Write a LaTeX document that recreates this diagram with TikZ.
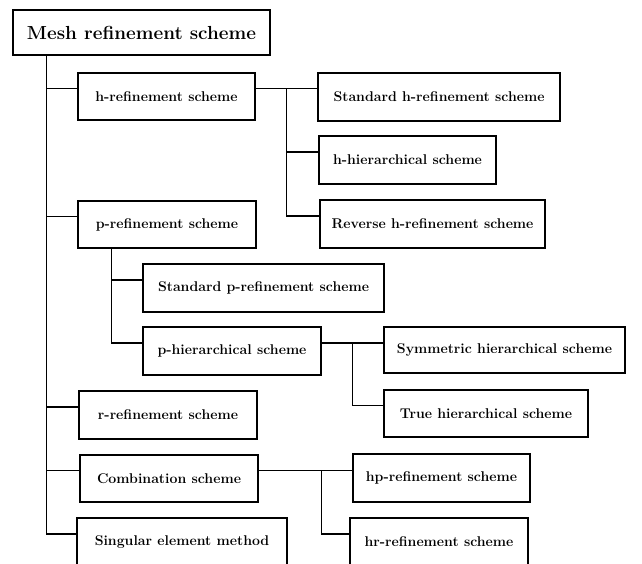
\documentclass[tikz,border=0pt]{standalone}
\usepackage{fontspec}
\usetikzlibrary{calc}
\begin{document}
\begin{tikzpicture}[x=1pt,y=-1pt,
  box/.style={draw, line width=1.4pt, minimum height=48pt, inner sep=0pt,
    font=\fontsize{14.1}{16}\selectfont\bfseries, align=center},
  link/.style={line width=1.1pt}]
\useasboundingbox (0,0) rectangle (642,563);
\clip (0,0) rectangle (642,563);
% boxes
\node[box, minimum width=257pt, minimum height=45pt, line width=1.2pt,
  font=\fontsize{18.9}{22}\selectfont\bfseries] (main) at (141.5,32.5) {Mesh refinement scheme};
\node[box, minimum width=177pt, minimum height=47pt] (href) at (166.5,96.5) {h-refinement scheme};
\node[box, minimum width=242pt] (stdh) at (439,97) {Standard h-refinement scheme};
\node[box, minimum width=177pt] (hhier) at (407.5,160) {h-hierarchical scheme};
\node[box, minimum width=225pt] (revh) at (432.5,224) {Reverse h-refinement scheme};
\node[box, minimum width=178pt, minimum height=47pt] (pref) at (167,224.5) {p-refinement scheme};
\node[box, minimum width=241pt] (stdp) at (263.5,288) {Standard p-refinement scheme};
\node[box, minimum width=178pt] (phier) at (232,351) {p-hierarchical scheme};
\node[box, minimum width=241pt, minimum height=46pt] (sym) at (504.5,350) {Symmetric hierarchical scheme};
\node[box, minimum width=204pt, minimum height=47pt] (true) at (486,413.5) {True hierarchical scheme};
\node[box, minimum width=178pt] (rref) at (168,415) {r-refinement scheme};
\node[box, minimum width=178pt, minimum height=47pt] (comb) at (169,478.5) {Combination scheme};
\node[box, minimum width=177pt] (hp) at (441.5,478) {hp-refinement scheme};
\node[box, minimum width=210pt] (sing) at (182,542) {Singular element method};
\node[box, minimum width=178pt] (hr) at (439,542) {hr-refinement scheme};
% connection points
\foreach \n in {href,stdh,hhier,revh,pref,stdp,phier,true,rref,comb,hp,sing,hr}
  \coordinate (\n-w) at ([yshift=8pt]\n.west);
\foreach \n in {href,phier,comb}
  \coordinate (\n-e) at ([yshift=8pt]\n.east);
% main trunk
\coordinate (t0) at ([xshift=34pt]main.south west);
\draw[link] (t0) |- (sing-w);
\foreach \n in {href,pref,rref,comb}
  \draw[link] (t0 |- \n-w) -- (\n-w);
% h-refinement branch
\draw[link] (href-e) -- (href-e -| stdh.west);
\coordinate (hx) at ($(href-e)!0.5!(href-e -| stdh.west)$);
\draw[link] (hx) |- (revh-w);
\draw[link] (hx |- hhier-w) -- (hhier-w);
% p-refinement branch
\coordinate (px) at ([xshift=34pt]pref.south west);
\draw[link] (px) |- (phier-w);
\draw[link] (px |- stdp-w) -- (stdp-w);
% p-hierarchical branch
\draw[link] (phier-e) -- (phier-e -| sym.west);
\coordinate (qx) at ($(phier-e)!0.5!(phier-e -| sym.west)$);
\draw[link] (qx) |- (true-w);
% combination branch
\draw[link] (comb-e) -- (comb-e -| hp.west);
\coordinate (cx) at ($(comb-e)!0.67!(comb-e -| hp.west)$);
\draw[link] (cx) |- (hr-w);
\end{tikzpicture}
\end{document}
